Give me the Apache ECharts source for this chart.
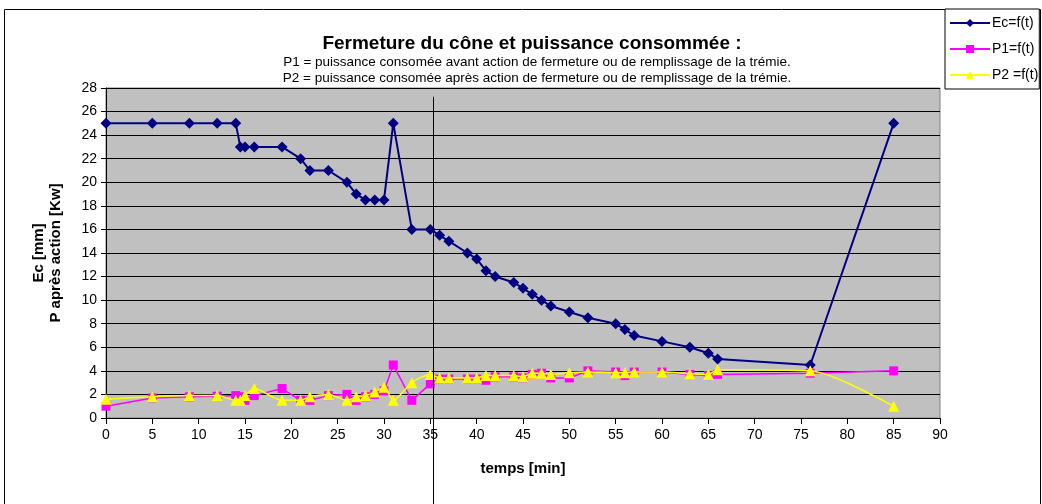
<!DOCTYPE html>
<html>
<head>
<meta charset="utf-8">
<script src="https://cdn.jsdelivr.net/npm/echarts@6/dist/echarts.min.js"></script>
<style>
html,body{margin:0;padding:0;background:#fff;}
#c{width:1042px;height:504px;}
</style>
</head>
<body>
<div id="c"></div>
<script>
// ---- data ----
const timeMin = [0,5,9,12,14,14.5,15,16,19,21,22,24,26,27,28,29,30,31,33,35,36,37,39,40,41,42,44,45,46,47,48,50,52,55,56,57,60,63,65,66,76,85];
const ecValues = [25,25,25,25,25,23,23,23,23,22,21,21,20,19,18.5,18.5,18.5,25,16,16,15.5,15,14,13.5,12.5,12,11.5,11,10.5,10,9.5,9,8.5,8,7.5,7,6.5,6,5.5,5,4.5,25];
const p1Values = [1.0,1.7,1.8,1.85,1.9,1.8,1.5,1.9,2.5,1.5,1.5,1.9,2.0,1.5,1.8,2.0,2.3,4.5,1.5,2.9,3.3,3.3,3.3,3.3,3.2,3.5,3.5,3.4,3.7,3.8,3.4,3.4,4.0,3.9,3.6,3.9,3.9,3.7,3.6,3.7,3.8,4.0];
const p2Values = [1.6,1.8,1.9,1.9,1.5,1.5,1.9,2.5,1.5,1.5,1.8,2.0,1.5,1.8,1.9,2.2,2.6,1.5,3.0,3.7,3.4,3.4,3.4,3.4,3.6,3.6,3.6,3.5,3.8,3.8,3.7,3.85,3.9,3.85,3.85,3.9,3.9,3.75,3.7,4.1,4.0,1.0];
const seriesNames = ['Ec=f(t)','P1=f(t)','P2 =f(t)'];
const titleText = 'Fermeture du cône et puissance consommée :';
const subLine1 = 'P1 = puissance consomée avant action de fermeture ou de remplissage de la trémie.';
const subLine2 = 'P2 = puissance consomée après action de fermeture ou de remplissage de la trémie.';
const xAxisName = 'temps [min]';
const yAxisName = 'Ec [mm]\nP après action [Kw]';
// annotation: vertical marker line (time, top value)
const markerTime = 35.3;
const markerTop = 27.25;

const pair = (xs, ys) => xs.map((x, i) => [x, ys[i]]);
const FONT = 'Liberation Sans, Arial, sans-serif';

const chart = echarts.init(document.getElementById('c'), null, {renderer:'canvas'});
chart.setOption({
  animation:false,
  backgroundColor:'#ffffff',
  textStyle:{fontFamily:FONT},
  title:[
    {text:titleText, left:532, top:34, textAlign:'center', padding:0,
     textStyle:{fontFamily:FONT, fontSize:19, fontWeight:'bold', color:'#000'}},
    {text:subLine1, left:537, top:55, textAlign:'center', padding:0,
     textStyle:{fontFamily:FONT, fontSize:13.5, fontWeight:'normal', color:'#000'}},
    {text:subLine2, left:537, top:71, textAlign:'center', padding:0,
     textStyle:{fontFamily:FONT, fontSize:13.5, fontWeight:'normal', color:'#000'}}
  ],
  legend:{
    orient:'vertical', left:945, top:9,
    padding:[7,1,7,4],
    itemWidth:40, itemHeight:10, itemGap:12,
    borderColor:'#000', borderWidth:1, backgroundColor:'#fff',
    textStyle:{fontFamily:FONT, fontSize:14, color:'#000', padding:[0,0,0,-3]},
    data:seriesNames
  },
  grid:{left:106, right:102, top:88, bottom:86, show:true, backgroundColor:'#C0C0C0', borderColor:'#808080', borderWidth:1, containLabel:false},
  xAxis:{
    type:'value', min:0, max:90, interval:5,
    name:xAxisName, nameLocation:'middle', nameGap:43,
    nameTextStyle:{fontFamily:FONT, fontSize:15, fontWeight:'bold', color:'#000'},
    axisLine:{show:true, onZero:false, lineStyle:{color:'#000', width:1}},
    axisTick:{show:true, inside:false, length:6, lineStyle:{color:'#000'}},
    axisLabel:{fontFamily:FONT, fontSize:14, color:'#000', margin:10},
    splitLine:{show:false}
  },
  yAxis:{
    type:'value', min:0, max:28, interval:2,
    name:yAxisName, nameLocation:'middle', nameGap:42, nameRotate:90,
    nameTextStyle:{fontFamily:FONT, fontSize:15, fontWeight:'bold', color:'#000', lineHeight:17},
    axisLine:{show:true, lineStyle:{color:'#000', width:1}},
    axisTick:{show:true, inside:false, length:5, lineStyle:{color:'#000'}},
    axisLabel:{fontFamily:FONT, fontSize:14, color:'#000', margin:9},
    splitLine:{show:true, lineStyle:{color:'#000', width:1}}
  },
  series:[
    {name:seriesNames[0], type:'line', data:pair(timeMin, ecValues),
     symbol:'diamond', symbolSize:11, color:'#000080',
     lineStyle:{color:'#000080', width:2}, itemStyle:{color:'#000080'}, z:3},
    {name:seriesNames[1], type:'line', data:pair(timeMin, p1Values),
     symbol:'rect', symbolSize:9, color:'#FF00FF',
     lineStyle:{color:'#FF00FF', width:1.5}, itemStyle:{color:'#FF00FF'}, z:4},
    {name:seriesNames[2], type:'line', data:pair(timeMin, p2Values), smooth:0.25,
     symbol:'triangle', symbolSize:11, color:'#FFFF00',
     lineStyle:{color:'#FFFF00', width:1.5}, itemStyle:{color:'#FFFF00'}, z:5}
  ]
});

// decorations: outer chart border and the vertical marker line (position from axis scale)
const mx = chart.convertToPixel({xAxisIndex:0}, markerTime);
const my = chart.convertToPixel({yAxisIndex:0}, markerTop);
chart.setOption({
  graphic:[
    {type:'rect', shape:{x:4.5, y:9.5, width:1036, height:520}, style:{fill:null, stroke:'#000', lineWidth:1}, silent:true, z:-1},
    {type:'line', shape:{x1:Math.round(mx)+0.5, y1:my, x2:Math.round(mx)+0.5, y2:504}, style:{stroke:'#000', lineWidth:1}, silent:true, z:100}
  ]
});
</script>
</body>
</html>
